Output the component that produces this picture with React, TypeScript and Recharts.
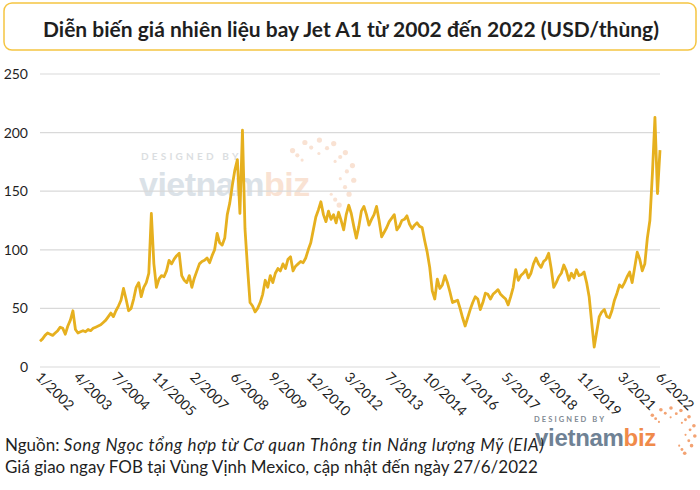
import React from "react";
import { CartesianGrid, Line, LineChart, XAxis, YAxis } from "recharts";

// Monthly Jet A1 spot prices (USD/barrel).
const y2002 = [22, 24, 27, 29, 28, 27, 29, 31, 34, 33, 28, 35];
const y2003 = [40, 48, 32, 29, 30, 31, 30, 32, 31, 33, 34, 35];
const y2004 = [36, 38, 40, 43, 46, 43, 48, 52, 57, 67, 58, 48];
const y2005 = [50, 58, 68, 72, 60, 68, 72, 80, 131, 88, 68, 75];
const y2006 = [78, 77, 82, 91, 88, 92, 95, 97, 78, 74, 72, 78];
const y2007 = [68, 76, 82, 88, 90, 91, 93, 89, 95, 100, 114, 106];
const y2008 = [104, 110, 130, 140, 155, 168, 177, 131, 202, 118, 85, 55];
const y2009 = [52, 47, 50, 55, 62, 74, 68, 78, 72, 80, 84, 82];
const y2010 = [88, 84, 92, 94, 82, 86, 88, 90, 89, 93, 100, 106];
const y2011 = [117, 128, 134, 141, 130, 124, 133, 126, 130, 123, 132, 125];
const y2012 = [117, 130, 138, 131, 120, 110, 120, 133, 137, 130, 121, 126];
const y2013 = [130, 137, 125, 111, 115, 119, 124, 127, 130, 117, 120, 125];
const y2014 = [126, 129, 122, 118, 121, 123, 120, 119, 108, 98, 85, 65];
const y2015 = [58, 75, 67, 70, 78, 72, 64, 55, 56, 57, 50, 42];
const y2016 = [35, 42, 49, 55, 60, 58, 49, 55, 63, 62, 58, 62];
const y2017 = [64, 66, 62, 60, 58, 53, 60, 68, 83, 74, 78, 80];
const y2018 = [83, 76, 80, 88, 93, 88, 85, 90, 92, 97, 84, 68];
const y2019 = [72, 77, 80, 87, 82, 74, 80, 76, 83, 78, 79, 81];
const y2020 = [72, 60, 38, 17, 30, 43, 47, 49, 43, 42, 48, 57];
const y2021 = [63, 70, 68, 72, 77, 81, 72, 85, 98, 92, 82, 88];
const y2022 = [110, 125, 165, 213, 148, 185];

const tickLabels = [
  "1/2002", "4/2003", "7/2004", "11/2005", "2/2007", "6/2008", "9/2009",
  "12/2010", "3/2012", "7/2013", "10/2014", "1/2016", "5/2017", "8/2018",
  "11/2019", "3/2021", "6/2022",
];
const yTicks = [0, 50, 100, 150, 200, 250];

const prices = [
  ...y2002, ...y2003, ...y2004, ...y2005, ...y2006, ...y2007, ...y2008,
  ...y2009, ...y2010, ...y2011, ...y2012, ...y2013, ...y2014, ...y2015,
  ...y2016, ...y2017, ...y2018, ...y2019, ...y2020, ...y2021, ...y2022,
];
const data = prices.map((v, i) => ({ t: i, price: v }));

// month index since 1/2002 for each tick label
const monthIndex = (label: string) => {
  const [m, y] = label.split("/").map(Number);
  return (y - 2002) * 12 + (m - 1);
};
const xTicks = tickLabels.map(monthIndex);
const labelFor = new Map(xTicks.map((t, i) => [t, tickLabels[i]]));

const FONT = "Lato, 'Open Sans', sans-serif";
const LOGO_FONT = "'Liberation Sans', Arial, sans-serif";
const INK = "#1f1f1f";
const GOLD = "#e6b01f";

function SlantTick(props: any) {
  const { x, payload } = props;
  return (
    <g transform={`translate(${x - 5},${378})`}>
      <text
        transform="rotate(45)"
        textAnchor="start"
        fontSize={14}
        fill={INK}
        fontFamily={FONT}
      >
        {labelFor.get(payload.value) ?? ""}
      </text>
    </g>
  );
}

// dotted half-ring that sits round the "biz" part of the logo
function DotRing({ cx, cy, r, fill, size }: { cx: number; cy: number; r: number; fill: string; size: number }) {
  const dots = [];
  for (let ring = 0; ring < 3; ring++) {
    const rr = r - ring * size * 2.6;
    const n = 9 - ring * 2;
    for (let k = 0; k < n; k++) {
      const a = -Math.PI * 0.75 + (k / (n - 1)) * Math.PI * 1.05;
      dots.push(
        <circle
          key={`${ring}-${k}`}
          cx={cx + rr * Math.cos(a)}
          cy={cy + rr * Math.sin(a)}
          r={size * (1 - ring * 0.2)}
          fill={fill}
        />
      );
    }
  }
  return <g>{dots}</g>;
}

function Backdrop() {
  return (
    <svg width={700} height={490} style={{ position: "absolute", left: 0, top: 0 }}>
      <rect x={4} y={3} width={692} height={47} rx={8} fill="#fff" stroke="#f5c542" strokeWidth={1.5} />
      <text x={351} y={37} textAnchor="middle" fontSize={21} fontWeight={700} fill={INK} fontFamily={FONT}>
        Diễn biến giá nhiên liệu bay Jet A1 từ 2002 đến 2022 (USD/thùng)
      </text>

      <g opacity={0.5}>
        <text x={141} y={160} fontSize={10} fontWeight={700} letterSpacing={3.2} fill="#b9bec4" fontFamily={FONT}>
          DESIGNED BY
        </text>
        <text x={139} y={196} fontSize={34} fontWeight={700} letterSpacing={-0.5} fill="#b8c6d2" fontFamily={LOGO_FONT}>
          vietnam
          <tspan fill="#f5c6a8">biz</tspan>
        </text>
        <DotRing cx={318} cy={176} r={36} fill="#f5c6a8" size={2.6} />
      </g>

      <text x={534} y={422} fontSize={7.5} fontWeight={700} letterSpacing={2.1} fill="#7f8a94" fontFamily={FONT}>
        DESIGNED BY
      </text>
      <text x={535} y={446} fontSize={24} fontWeight={700} letterSpacing={-0.3} fill="#6f8295" fontFamily={LOGO_FONT}>
        vietnam
        <tspan fill="#f08a4a">biz</tspan>
      </text>
      <DotRing cx={670} cy={433} r={25} fill="#f3a373" size={1.8} />

      <text x={5} y={451} fontSize={17} fill={INK} fontFamily={FONT}>
        Nguồn:{" "}
        <tspan fontStyle="italic" letterSpacing={0.6}>
          Song Ngọc tổng hợp từ Cơ quan Thông tin Năng lượng Mỹ (EIA)
        </tspan>
      </text>
      <text x={5} y={473} fontSize={17} fill={INK} fontFamily={FONT}>
        Giá giao ngay FOB tại Vùng Vịnh Mexico, cập nhật đến ngày 27/6/2022
      </text>
    </svg>
  );
}

export default function App() {
  return (
    <div
      style={{
        position: "absolute",
        left: 0,
        top: 0,
        width: 700,
        height: 490,
        background: "#fff",
        fontFamily: FONT,
      }}
    >
      <Backdrop />
      <div style={{ position: "absolute", left: 0, top: 0 }}>
        <LineChart
          width={700}
          height={490}
          data={data}
          margin={{ top: 74, right: 40, left: 0, bottom: 63 }}
        >
          <CartesianGrid vertical={false} stroke="#d9d9d9" strokeWidth={1.2} />
          <XAxis
            dataKey="t"
            type="number"
            domain={[0, 245]}
            ticks={xTicks}
            interval={0}
            height={60}
            axisLine={false}
            tickLine={false}
            tick={<SlantTick />}
          />
          <YAxis
            width={40}
            domain={[0, 250]}
            ticks={yTicks}
            axisLine={false}
            tickLine={false}
            tickMargin={6}
            tick={{ fontSize: 14, fill: INK, fontFamily: FONT }}
          />
          <Line
            type="linear"
            dataKey="price"
            stroke={GOLD}
            strokeWidth={2.8}
            strokeLinejoin="round"
            dot={false}
            isAnimationActive={false}
          />
        </LineChart>
      </div>
    </div>
  );
}
